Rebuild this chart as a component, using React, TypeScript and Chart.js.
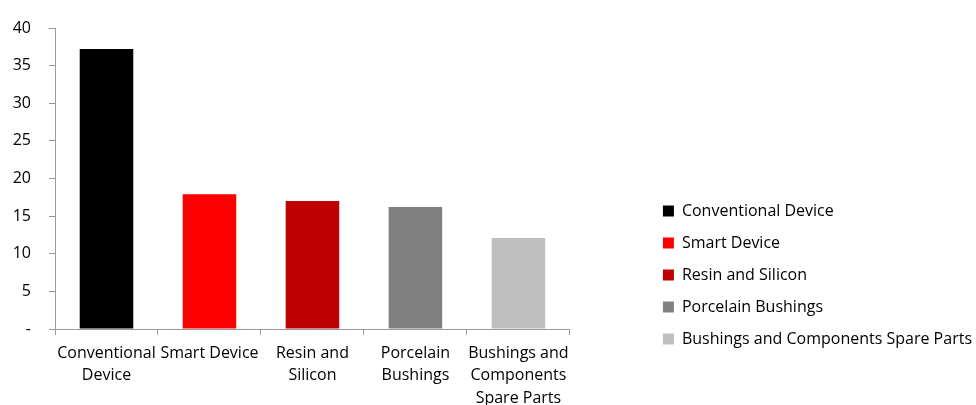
import React, { useEffect, useRef } from "react";
import { Chart, registerables } from "chart.js";

Chart.register(...registerables);

const categories: string[][] = [
  ["Conventional", "Device"],
  ["Smart Device"],
  ["Resin and", "Silicon"],
  ["Porcelain", "Bushings"],
  ["Bushings and", "Components", "Spare Parts"],
];
const legendNames: string[] = [
  "Conventional Device",
  "Smart Device",
  "Resin and Silicon",
  "Porcelain Bushings",
  "Bushings and Components Spare Parts",
];
const values: number[] = [37.2, 17.9, 17.0, 16.2, 12.1];
const colors: string[] = ["#000000", "#FF0000", "#C00000", "#808080", "#BFBFBF"];
const yTicks: number[] = [0, 5, 10, 15, 20, 25, 30, 35, 40];

const FONT = "'Open Sans', sans-serif";
const AXIS_COLOR = "#9a9a9a";

export default function App() {
  const ref = useRef<HTMLCanvasElement | null>(null);

  useEffect(() => {
    if (!ref.current) return;
    const chart = new Chart(ref.current, {
      type: "bar",
      data: {
        labels: categories,
        datasets: [
          {
            data: values,
            backgroundColor: colors,
            borderWidth: 0,
            categoryPercentage: 1,
            barPercentage: 0.52,
          },
        ],
      },
      options: {
        animation: false,
        responsive: true,
        maintainAspectRatio: false,
        layout: { padding: { top: 28, right: -6, bottom: 0, left: 0 } },
        plugins: {
          tooltip: { enabled: false },
          legend: {
            display: true,
            position: "right",
            align: "center",
            maxWidth: 600,
            title: {
              display: true,
              text: " ",
              font: { size: 10, family: FONT },
              padding: { top: 105, bottom: 0 },
            },
            labels: {
              boxWidth: 11,
              boxHeight: 11,
              padding: 16,
              color: "#000",
              font: { size: 16, family: FONT },
              generateLabels: () =>
                legendNames.map((t, i) => ({
                  text: t,
                  fillStyle: colors[i],
                  strokeStyle: colors[i],
                  fontColor: "#000",
                  lineWidth: 0,
                  hidden: false,
                  index: i,
                  datasetIndex: 0,
                })),
            },
          },
        },
        scales: {
          x: {
            offset: true,
            grid: {
              display: true,
              drawOnChartArea: false,
              drawTicks: true,
              tickLength: 6,
              color: AXIS_COLOR,
              offset: true,
            },
            border: { display: true, color: AXIS_COLOR, width: 1 },
            ticks: {
              color: "#000",
              padding: 7,
              maxRotation: 0,
              autoSkip: false,
              font: { size: 16, family: FONT, lineHeight: 1.4 },
            },
            afterFit: (s: any) => {
              s.height = 76;
            },
          },
          y: {
            min: 0,
            max: 40,
            afterBuildTicks: (s: any) => {
              s.ticks = yTicks.map((v) => ({ value: v }));
            },
            grid: {
              display: true,
              drawOnChartArea: false,
              drawTicks: true,
              tickLength: 6,
              color: AXIS_COLOR,
            },
            border: { display: true, color: AXIS_COLOR, width: 1 },
            ticks: {
              color: "#000",
              padding: 18,
              font: { size: 16, family: FONT },
              callback: (v: any) => (Number(v) === 0 ? "-" : String(v)),
            },
            afterFit: (s: any) => {
              s.width = 55;
            },
          },
          y2: {
            position: "right",
            display: true,
            grid: { display: false, drawTicks: false },
            border: { display: false },
            ticks: { display: false },
            afterFit: (s: any) => {
              s.width = 77;
            },
          },
        },
      },
    } as any);
    return () => chart.destroy();
  }, []);

  return (
    <div style={{ position: "fixed", left: 0, top: 0, width: 976, height: 405, background: "#fff" }}>
      <canvas ref={ref} />
    </div>
  );
}
